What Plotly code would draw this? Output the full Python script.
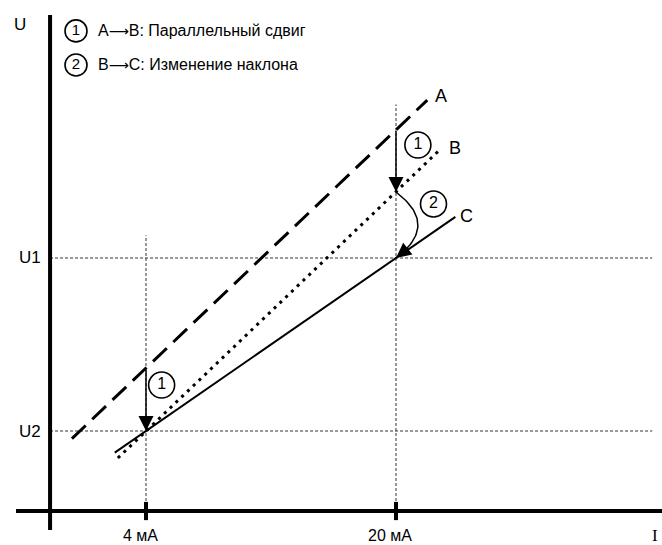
import numpy as np
import plotly.graph_objects as go

# ---------------- data (x: current in mA, y: voltage in arbitrary units) -------------
I_TICKS = [4, 20]
I_TICK_LABELS = ["4 мА", "20 мА"]
U_LEVELS = [20, 4]            # U1, U2
U_LABELS = ["U1", "U2"]
GRID_V_TOP = [22.1, 34.2]     # top end of the dashed verticals at 4 mA and 20 mA

line_A_x = [-0.74, 22.0]
line_A_y = [3.3, 34.6]
line_B_x = [2.2, 22.8]
line_B_y = [1.5, 30.0]
line_C_x = [2.0, 23.8]
line_C_y = [2.0, 23.8]
LINE_NAMES = ["A", "B", "C"]
LINE_LABEL_X = [22.9, 23.8, 24.5]
LINE_LABEL_Y = [35.0, 30.2, 23.9]

# parallel shift arrows A -> B
shift_x = [4, 20]
shift_from_y = [9.78, 31.88]
shift_to_y = [4, 26.1]
shift_mark_x = [5.0, 21.4]
shift_mark_y = [8.25, 30.45]

# slope change arc B -> C at 20 mA (start, control, end)
arc_x = [20, 22.8, 20]
arc_y = [26.1, 23.05, 20]
arc_mark_x = [22.4]
arc_mark_y = [25.0]

ARROW = "<span style='font-family:DejaVu Sans;font-size:14px'>\u27f6</span>"
legend_marks = ["1", "2"]
legend_texts = ["A" + ARROW + "B: Параллельный сдвиг",
                "B" + ARROW + "C: Изменение наклона"]
legend_x = -0.48
legend_y = [41.0, 37.85]

# frame
X_AXIS_Y = -3.4
Y_AXIS_X = -2.14
X_AXIS_SPAN = [-4.32, 37.1]
Y_AXIS_SPAN = [-5.16, 42.47]
GRID_H_END = 36.4
X_RANGE = [-5.344, 37.024]
Y_RANGE = [-6.543, 43.86]

FONT = "Liberation Sans, Arial, sans-serif"
BLACK = "#000000"

fig = go.Figure()

# dashed guide lines
for u in U_LEVELS:
    fig.add_trace(go.Scatter(x=[Y_AXIS_X, GRID_H_END], y=[u, u], mode="lines",
                             line=dict(color="#333333", width=1, dash="3px,2px")))
for xi, top in zip(I_TICKS, GRID_V_TOP):
    fig.add_trace(go.Scatter(x=[xi, xi], y=[X_AXIS_Y, top], mode="lines",
                             line=dict(color="#333333", width=1, dash="3px,2px")))

# axes
fig.add_trace(go.Scatter(x=X_AXIS_SPAN, y=[X_AXIS_Y, X_AXIS_Y], mode="lines",
                         line=dict(color=BLACK, width=4)))
fig.add_trace(go.Scatter(x=[Y_AXIS_X, Y_AXIS_X], y=Y_AXIS_SPAN, mode="lines",
                         line=dict(color=BLACK, width=4)))
fig.add_trace(go.Scatter(x=I_TICKS, y=[X_AXIS_Y] * len(I_TICKS), mode="markers",
                         marker=dict(symbol="line-ns-open", size=13, color=BLACK,
                                     line=dict(color=BLACK, width=4))))

# characteristic lines
fig.add_trace(go.Scatter(x=line_A_x, y=line_A_y, mode="lines",
                         line=dict(color=BLACK, width=3, dash="19px,9px")))
fig.add_trace(go.Scatter(x=line_B_x, y=line_B_y, mode="lines",
                         line=dict(color=BLACK, width=3, dash="3px,5px")))
fig.add_trace(go.Scatter(x=line_C_x, y=line_C_y, mode="lines",
                         line=dict(color=BLACK, width=2)))

# arc B -> C (quadratic Bezier through the control points)
t = np.linspace(0, 1, 40)
bx = (1 - t) ** 2 * arc_x[0] + 2 * (1 - t) * t * arc_x[1] + t ** 2 * arc_x[2]
by = (1 - t) ** 2 * arc_y[0] + 2 * (1 - t) * t * arc_y[1] + t ** 2 * arc_y[2]
fig.add_trace(go.Scatter(x=bx, y=by, mode="lines", line=dict(color=BLACK, width=1.5)))

# circled numbers
circ = dict(symbol="circle-open", size=26, color=BLACK, line=dict(color=BLACK, width=1.6))
fig.add_trace(go.Scatter(x=shift_mark_x, y=shift_mark_y, mode="markers+text",
                         text=["1", "1"], textposition="middle center",
                         marker=circ, textfont=dict(family=FONT, size=16, color=BLACK)))
fig.add_trace(go.Scatter(x=arc_mark_x, y=arc_mark_y, mode="markers+text",
                         text=["2"], textposition="middle center",
                         marker=circ, textfont=dict(family=FONT, size=16, color=BLACK)))
fig.add_trace(go.Scatter(x=[legend_x] * 2, y=legend_y, mode="markers+text",
                         text=legend_marks, textposition="middle center",
                         marker=dict(symbol="circle-open", size=22, color=BLACK,
                                     line=dict(color=BLACK, width=1.6)),
                         textfont=dict(family=FONT, size=15, color=BLACK)))

ann = []
# shift arrows
for xi, y0, y1 in zip(shift_x, shift_from_y, shift_to_y):
    ann.append(dict(x=xi, y=y1, ax=xi, ay=y0, xref="x", yref="y", axref="x", ayref="y",
                    text="", showarrow=True, arrowhead=2, arrowsize=2, arrowwidth=1.5,
                    arrowcolor=BLACK, standoff=0, startstandoff=0))
# arc arrowhead
ann.append(dict(x=arc_x[2], y=arc_y[2], ax=14, ay=-11, xref="x", yref="y",
                text="", showarrow=True, arrowhead=2, arrowsize=2, arrowwidth=1.5,
                arrowcolor=BLACK, standoff=0))
# line labels
for name, lx, ly in zip(LINE_NAMES, LINE_LABEL_X, LINE_LABEL_Y):
    ann.append(dict(x=lx, y=ly, text=name, showarrow=False, xref="x", yref="y",
                    font=dict(family=FONT, size=18, color=BLACK)))
# legend texts
for txt, ly in zip(legend_texts, legend_y):
    ann.append(dict(x=legend_x, y=ly, text=txt, showarrow=False, xref="x", yref="y",
                    xanchor="left", xshift=20,
                    font=dict(family=FONT, size=16, color=BLACK)))
# axis labels
ann.append(dict(x=-4.06, y=41.6, text="U", showarrow=False,
                font=dict(family=FONT, size=17, color=BLACK)))
for u, lab in zip(U_LEVELS, U_LABELS):
    ann.append(dict(x=-3.4, y=u, text=lab, showarrow=False,
                    font=dict(family=FONT, size=17, color=BLACK)))
for xi, lab in zip(I_TICKS, I_TICK_LABELS):
    ann.append(dict(x=xi, y=X_AXIS_Y, yshift=-24, xshift=-6, text=lab, showarrow=False,
                    borderpad=0, font=dict(family=FONT, size=16, color=BLACK)))
ann.append(dict(x=36.6, y=X_AXIS_Y, yshift=-24, text="I", showarrow=False, borderpad=0,
                font=dict(family="Liberation Serif, Times New Roman, serif", size=17,
                          color=BLACK)))

fig.update_layout(
    width=662, height=545,
    margin=dict(l=0, r=0, t=0, b=0),
    paper_bgcolor="white", plot_bgcolor="white",
    showlegend=False, hovermode=False,
    xaxis=dict(range=X_RANGE, visible=False, fixedrange=True),
    yaxis=dict(range=Y_RANGE, visible=False, fixedrange=True),
    annotations=ann,
)

fig.write_html("out.html", config={"displayModeBar": False},
               post_script="document.body.style.margin='0';")
